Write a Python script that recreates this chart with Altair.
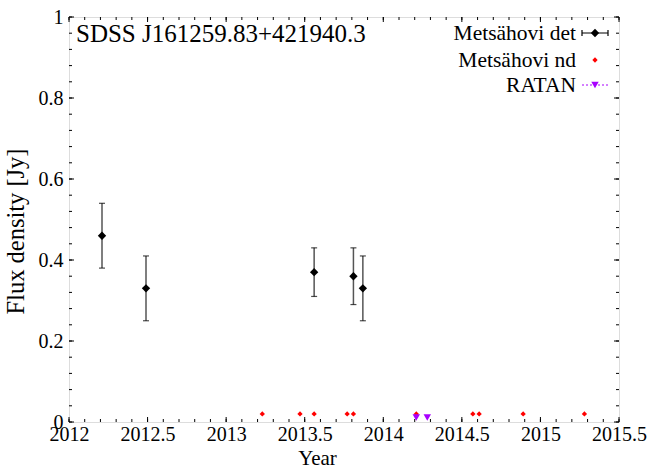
import altair as alt
import pandas as pd

# Metsähovi detections: epoch, flux density and 1-sigma error (Jy)
det_year = [2012.21, 2012.49, 2013.56, 2013.81, 2013.87]
det_flux = [0.46, 0.33, 0.37, 0.36, 0.33]
det_err = [0.08, 0.08, 0.06, 0.07, 0.08]

# Metsähovi non-detections
nd_year = [2013.23, 2013.47, 2013.56, 2013.77, 2013.81,
           2014.21, 2014.57, 2014.61, 2014.89, 2015.28]
nd_flux = [0.02] * len(nd_year)

# RATAN measurements
ratan_year = [2014.21, 2014.28]
ratan_flux = [0.011, 0.011]

# axis tick positions
x_major = [2012.0, 2012.5, 2013.0, 2013.5, 2014.0, 2014.5, 2015.0, 2015.5]
x_minor = [round(2012 + 0.1 * i, 1) for i in range(36)]
y_major = [0.0, 0.2, 0.4, 0.6, 0.8, 1.0]
y_minor = [round(0.04 * i, 2) for i in range(26)]

FONT = "Liberation Serif"
W, H = 550, 405
VIOLET = "#a800ff"

det = pd.DataFrame({"year": det_year, "flux": det_flux, "err": det_err})
det["lo"] = det["flux"] - det["err"]
det["hi"] = det["flux"] + det["err"]
nd = pd.DataFrame({"year": nd_year, "flux": nd_flux})
ratan = pd.DataFrame({"year": ratan_year, "flux": ratan_flux})

xs = alt.Scale(domain=[2012, 2015.5], nice=False, zero=False)
ys = alt.Scale(domain=[0, 1], nice=False, zero=True)

x_axis = alt.Axis(values=x_major, format="~g", ticks=False, tickSize=0, domain=False,
                  grid=False, labelFont=FONT, labelFontSize=20, labelColor="black",
                  labelPadding=2, labelFlush=False, title="Year", titleFont=FONT,
                  titleFontSize=21, titleFontWeight="normal", titleColor="black",
                  titleBaseline="alphabetic", titleAlign="center", titleX=248, titleY=42)
y_axis = alt.Axis(values=y_major, format="~g", ticks=False, tickSize=0, domain=False,
                  grid=False, labelFont=FONT, labelFontSize=20, labelColor="black",
                  labelPadding=6, labelFlush=False, title="Flux density [Jy]",
                  titleFont=FONT, titleFontSize=24.5, titleFontWeight="normal",
                  titleColor="black", titleAngle=-90, titleBaseline="middle",
                  titleAlign="center", titleX=-53, titleY=214)

base_det = alt.Chart(det)
bars = base_det.mark_rule(color="#555555", strokeWidth=1.5).encode(
    x=alt.X("year:Q", scale=xs, axis=x_axis),
    y=alt.Y("lo:Q", scale=ys, axis=y_axis),
    y2="hi:Q",
)
cap_lo = base_det.mark_tick(orient="horizontal", color="black", size=6, thickness=1.2).encode(
    x="year:Q", y="lo:Q")
cap_hi = base_det.mark_tick(orient="horizontal", color="black", size=6, thickness=1.2).encode(
    x="year:Q", y="hi:Q")
det_pts = base_det.mark_point(shape="diamond", filled=True, color="black", size=70, opacity=1).encode(
    x="year:Q", y="flux:Q")

nd_pts = alt.Chart(nd).mark_point(shape="diamond", filled=True, color="red", size=28, opacity=1).encode(
    x="year:Q", y="flux:Q")
ratan_pts = alt.Chart(ratan).mark_point(shape="triangle-down", filled=True, color=VIOLET,
                                         size=55, opacity=1).encode(x="year:Q", y="flux:Q")

# inward ticks on all four sides of the frame
def xticks(vals, length):
    df = pd.DataFrame({"v": vals})
    bot = alt.Chart(df).mark_rule(color="black", strokeWidth=1).encode(
        x="v:Q", y=alt.value(H), y2=alt.value(H - length))
    top = alt.Chart(df).mark_rule(color="black", strokeWidth=1).encode(
        x="v:Q", y=alt.value(0), y2=alt.value(length))
    return [bot, top]

def yticks(vals, length):
    df = pd.DataFrame({"v": vals})
    left = alt.Chart(df).mark_rule(color="black", strokeWidth=1).encode(
        y="v:Q", x=alt.value(0), x2=alt.value(length))
    right = alt.Chart(df).mark_rule(color="black", strokeWidth=1).encode(
        y="v:Q", x=alt.value(W), x2=alt.value(W - length))
    return [left, right]

ticks = xticks(x_minor, 3) + xticks(x_major, 5) + yticks(y_minor, 3) + yticks(y_major, 5)

one = pd.DataFrame({"k": [0]})
title = alt.Chart(one).mark_text(text="SDSS J161259.83+421940.3", font=FONT, fontSize=25,
                                 align="left", baseline="alphabetic", color="black").encode(
    x=alt.value(7), y=alt.value(25))

# key in the upper right corner
labels = ["Metsähovi det", "Metsähovi nd", "RATAN"]
rows = [16, 43, 68]
key = []
for lab, ry in zip(labels, rows):
    key.append(alt.Chart(one).mark_text(text=lab, font=FONT, fontSize=21.5, align="right",
                                        baseline="middle", color="black").encode(
        x=alt.value(507), y=alt.value(ry + 1)))
key.append(alt.Chart(one).mark_rule(color="#555555", strokeWidth=1.5).encode(
    x=alt.value(513), x2=alt.value(539), y=alt.value(rows[0])))
key.append(alt.Chart(one).mark_rule(color="black", strokeWidth=1.2).encode(
    x=alt.value(513), y=alt.value(rows[0] - 3), y2=alt.value(rows[0] + 3)))
key.append(alt.Chart(one).mark_rule(color="black", strokeWidth=1.2).encode(
    x=alt.value(539), y=alt.value(rows[0] - 3), y2=alt.value(rows[0] + 3)))
key.append(alt.Chart(one).mark_point(shape="diamond", filled=True, color="black", size=70,
                                     opacity=1).encode(x=alt.value(526), y=alt.value(rows[0])))
key.append(alt.Chart(one).mark_point(shape="diamond", filled=True, color="red", size=28,
                                     opacity=1).encode(x=alt.value(526), y=alt.value(rows[1])))
key.append(alt.Chart(one).mark_rule(color=VIOLET, strokeWidth=1, strokeDash=[2, 2]).encode(
    x=alt.value(513), x2=alt.value(539), y=alt.value(rows[2])))
key.append(alt.Chart(one).mark_point(shape="triangle-down", filled=True, color=VIOLET, size=55,
                                     opacity=1).encode(x=alt.value(526), y=alt.value(rows[2])))

chart = alt.layer(bars, cap_lo, cap_hi, det_pts, nd_pts, ratan_pts, *ticks, title, *key).properties(
    width=W, height=H,
    autosize=alt.AutoSizeParams(type="none"),
    padding={"left": 69, "top": 17, "right": 35, "bottom": 46},
).configure_view(stroke="black", strokeWidth=1.2).configure(background="white")

chart.save("out.html", embed_options={"renderer": "svg", "actions": False})
